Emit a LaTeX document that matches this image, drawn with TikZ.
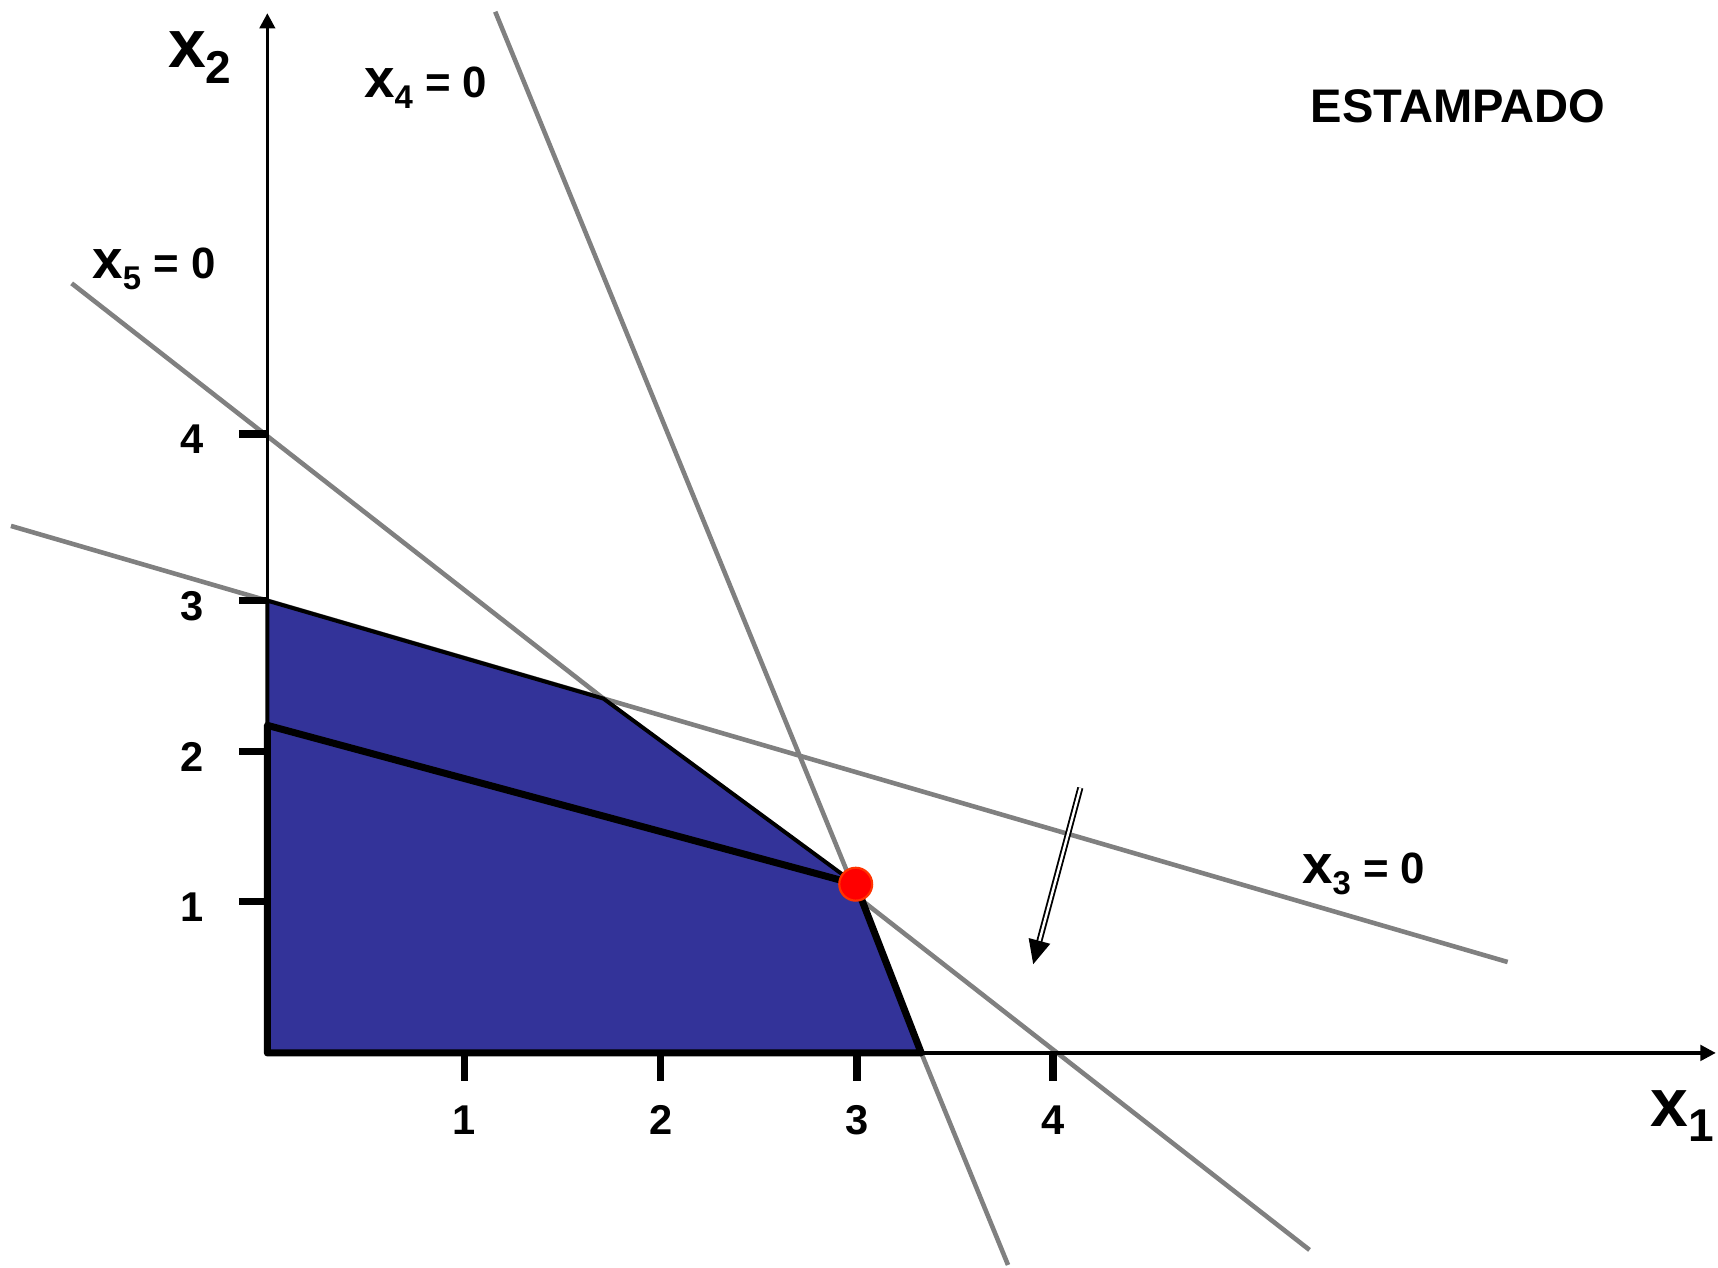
\documentclass[tikz,border=0pt]{standalone}
\usepackage{fontspec}
\setmainfont{Liberation Sans}
\usetikzlibrary{arrows.meta}
\definecolor{feasreg}{HTML}{333399}
\definecolor{clinegray}{HTML}{808080}
\definecolor{optpt}{HTML}{FF0000}
\definecolor{optedge}{HTML}{FF3300}

\newcommand{\varsub}[1]{{\fontsize{25}{25}\selectfont x}\raisebox{-5pt}{\fontsize{15}{15}\selectfont #1}}
\newcommand{\axsub}[1]{{\fontsize{31}{31}\selectfont x}\raisebox{-7pt}{\fontsize{21}{21}\selectfont #1}}

\begin{document}
\begin{tikzpicture}[
  x=0.5pt, y=-0.5pt,
  font=\bfseries,
  >={Triangle[length=7pt,width=7pt]},
  axis/.style={->, line width=1.6pt},
  cline/.style={draw=clinegray, line width=2.1pt},
  thinedge/.style={draw=black, line width=1.8pt, line join=round},
  thickedge/.style={draw=black, line width=3.2pt, line join=round},
  tickmark/.style={line width=3.4pt},
  ticklab/.style={font=\bfseries\fontsize{19}{19}\selectfont, inner sep=0pt},
  eqlab/.style={font=\bfseries\fontsize{20}{20}\selectfont, anchor=base west, inner sep=0pt},
  titlelab/.style={font=\bfseries\fontsize{21.5}{21.5}\selectfont, anchor=base west, inner sep=0pt},
  axlab/.style={font=\bfseries, anchor=base west, inner sep=0pt},
  dirarrow/.style={double, double distance=1.1pt, line width=0.85pt,
                   -{Triangle[length=11pt,width=10pt]}},
]
\useasboundingbox (0,0) rectangle (1568,1157);

% ---- axes and constraint lines ----
\coordinate (O) at (244,961);
\coordinate (yend) at (244,12);
\coordinate (xend) at (1566,961);
\coordinate (l3a) at (10,480);
\coordinate (l3b) at (1376,878);
\coordinate (l4a) at (452,10.7);
\coordinate (l4b) at (920,1154.5);
\coordinate (l5a) at (65.4,258.6);
\coordinate (l5b) at (1195.2,1140.8);

% ---- region corners ----
\coordinate (A) at (intersection of l3a--l3b and O--yend);
\coordinate (B) at (intersection of l3a--l3b and l5a--l5b);
\coordinate (D) at (781,807);
\coordinate (E) at (intersection of l4a--l4b and O--xend);
\coordinate (P) at (244,662);

\draw[cline] (l3a) -- (l3b);
\draw[cline] (l4a) -- (l4b);
\draw[cline] (l5a) -- (l5b);

\fill[feasreg] (O) -- (A) -- (B) -- (D) -- (E) -- cycle;

\draw[axis] (O) -- (yend);
\draw[axis] (O) -- (xend);

\draw[thinedge] (P) -- (A) -- (B) -- (D);
\draw[thickedge] (P) -- (D) -- (E) -- (O) -- cycle;

% ---- ticks ----
\foreach \tx/\tl in {424/1,603/2,782/3,961/4} {
  \draw[tickmark] (\tx,961) -- (\tx,987);
  \node[ticklab] (xt\tl) at (\tx,1022) {\tl};
}
\foreach \ty/\tl in {823/1,686/2,548/3,396/4} {
  \draw[tickmark] (218,\ty) -- (244,\ty);
  \node[ticklab] (yt\tl) at (175,\ty+5) {\tl};
}

% ---- optimum and direction ----
\node[circle, fill=optpt, draw=optedge, line width=1pt, minimum size=15pt,
      inner sep=0pt] (opt) at (D) {};
\coordinate (dirA) at (986,719);
\coordinate (dirB) at (943,880);
\draw[dirarrow] (dirA) -- (dirB);

% ---- labels ----
\node[eqlab] (lab4) at (332,89) {\varsub{4} = 0};
\node[eqlab] (lab5) at (84,254) {\varsub{5} = 0};
\node[eqlab] (lab3) at (1188,806) {\varsub{3} = 0};
\node[titlelab] (title) at (1196,112) {ESTAMPADO};
\node[axlab] (x2lab) at (153,62) {\axsub{2}};
\node[axlab] (x1lab) at (1506,1028) {\axsub{1}};
\end{tikzpicture}
\end{document}
